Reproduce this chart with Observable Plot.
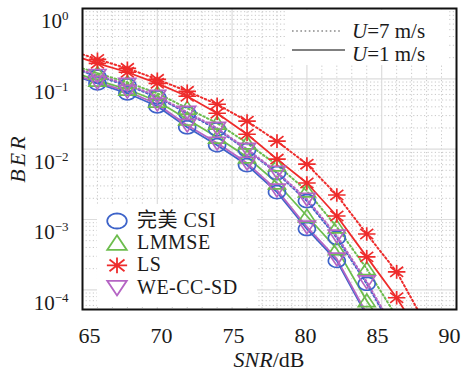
<!DOCTYPE html>
<html><head><meta charset="utf-8">
<script src="https://cdn.jsdelivr.net/npm/d3@7"></script>
<script src="https://cdn.jsdelivr.net/npm/@observablehq/plot@0.6"></script>
<style>
body{margin:0;background:#fff;}
#chart{position:relative;width:461px;height:373px;}
</style></head><body><div id="chart"></div>
<script>
// ---- data ----
const snr = [65, 66, 68, 70, 72, 74, 76, 78, 80, 82, 84, 86, 88];
const methods = ["完美 CSI", "LMMSE", "LS", "WE-CC-SD"];
const speeds = ["U=7 m/s", "U=1 m/s"];
const xTicks = [65, 70, 75, 80, 85, 90];
const yTicks = [1, 0.1, 0.01, 0.001, 0.0001];

// U = 1 m/s (solid)
const csiU1   = [0.1017, 0.0863, 0.0623, 0.0407, 0.0205, 0.0114, 0.00593, 0.00245, 0.000733, 0.000258, 0.0000428, 0.0000060, null];
const lmmseU1 = [0.112, 0.0952, 0.0710, 0.0480, 0.0267, 0.0148, 0.00771, 0.00330, 0.00112, 0.000382, 0.0000698, 0.0000161, null];
const lsU1    = [0.195, 0.166, 0.124, 0.0863, 0.0565, 0.0324, 0.0163, 0.00722, 0.00330, 0.00112, 0.000294, 0.0000771, 0.0000161];
const weU1    = [0.105, 0.0892, 0.0665, 0.0435, 0.0219, 0.0122, 0.00633, 0.00262, 0.000783, 0.000275, 0.0000457, 0.0000071, null];
// U = 7 m/s (dotted)
const csiU7   = [0.128, 0.108, 0.0809, 0.0547, 0.0324, 0.0192, 0.00968, 0.00457, 0.00183, 0.000547, 0.000122, 0.0000223, null];
const lmmseU7 = [0.141, 0.120, 0.0892, 0.0623, 0.0382, 0.0234, 0.0122, 0.00593, 0.00254, 0.000783, 0.000199, 0.0000414, null];
const lsU7    = [0.223, 0.189, 0.141, 0.0984, 0.0665, 0.0435, 0.0250, 0.0130, 0.00612, 0.00223, 0.000622, 0.000180, 0.0000308];
const weU7    = [0.132, 0.112, 0.0836, 0.0565, 0.0335, 0.0199, 0.0100, 0.00472, 0.00195, 0.000583, 0.000130, 0.0000238, null];

// ---- styles ----
const colors = ["#3d63c9", "#6dbd4e", "#ee2b2b", "#b565c4"];
const serif = "'Liberation Serif', 'Noto Sans CJK SC', serif";

const series = [
  [0, 1, csiU1], [1, 1, lmmseU1], [2, 1, lsU1], [3, 1, weU1],
  [0, 0, csiU7], [1, 0, lmmseU7], [2, 0, lsU7], [3, 0, weU7]
];
const rows = series.flatMap(([m, s, vals]) =>
  vals.map((v, i) => ({method: methods[m], mi: m, speed: speeds[s], si: s, snr: snr[i], ber: v}))
      .filter(d => d.ber != null));

const yMin = Math.pow(10, -4.28), yMax = 1;

// custom marker shapes
function poly(pts) {
  return {draw(ctx, size) {
    const r = Math.sqrt(size / Math.PI);
    pts.forEach(([x, y], i) => i ? ctx.lineTo(x * r, y * r) : ctx.moveTo(x * r, y * r));
    ctx.closePath();
  }};
}
const ellipse = {draw(ctx, size) {
  const r = Math.sqrt(size / Math.PI), n = 36;
  for (let i = 0; i < n; i++) {
    const a = 2 * Math.PI * i / n, x = 1.3 * r * Math.cos(a), y = 1.0 * r * Math.sin(a);
    i ? ctx.lineTo(x, y) : ctx.moveTo(x, y);
  }
  ctx.closePath();
}};
const triUp = poly([[0, -1.05], [1.3, 0.9], [-1.3, 0.9]]);
const triDown = poly([[0, 1.05], [1.3, -0.9], [-1.3, -0.9]]);
const star = {draw(ctx, size) {
  const r = Math.sqrt(size / Math.PI);
  for (const [x, y] of [[1.35, 0], [0, 1.05], [1.0, 0.78], [1.0, -0.78]]) {
    ctx.moveTo(-x * r, -y * r); ctx.lineTo(x * r, y * r);
  }
}};
const symbols = [ellipse, triUp, star, triDown];

// grid values
const minorY = [];
for (let k = -5; k <= -1; k++) for (let m = 2; m <= 9; m++) { const v = m * Math.pow(10, k); if (v > yMin && v < yMax) minorY.push(v); }
const minorX = d3.range(66, 90).filter(v => v % 5 !== 0);
const majorX = xTicks.filter(v => v > 65 && v < 90);
const majorY = yTicks.filter(v => v > yMin && v < yMax);

const lineMarks = [];
for (const si of [0, 1]) {
  for (let mi = 0; mi < 4; mi++) {
    lineMarks.push(Plot.line(rows.filter(d => d.mi === mi && d.si === si), {
      x: "snr", y: "ber", stroke: colors[mi], strokeWidth: si === 1 ? 1.8 : 2,
      strokeDasharray: si === 0 ? "1.6,2.6" : null, clip: true
    }));
  }
}
const dotMarks = [];
for (let mi = 0; mi < 4; mi++) {
  dotMarks.push(Plot.dot(rows.filter(d => d.mi === mi && d.snr >= 66 && d.ber >= yMin), {
    x: "snr", y: "ber", symbol: symbols[mi], r: 6.5, stroke: colors[mi], fill: "none", strokeWidth: 1.7
  }));
}

const svg = Plot.plot({
  width: 461, height: 373,
  marginLeft: 82, marginRight: 5, marginTop: 8, marginBottom: 64,
  style: {fontFamily: serif, fontSize: "22px", color: "#1a1a1a", background: "#fff"},
  x: {domain: [65, 90], ticks: xTicks, tickSize: 0, tickPadding: 18, label: null},
  y: {type: "log", domain: [yMin, yMax], ticks: yTicks, tickSize: 0, tickPadding: 14, label: null,
      tickFormat: d => String(Math.round(Math.log10(d)))},
  marks: [
    Plot.ruleY(minorY, {stroke: "#c8c8c8", strokeDasharray: "1.2,2.4", strokeWidth: 1}),
    Plot.ruleX(minorX, {stroke: "#c8c8c8", strokeDasharray: "1.2,2.4", strokeWidth: 1}),
    Plot.ruleY(majorY, {stroke: "#dcdcdc", strokeWidth: 1.2}),
    Plot.ruleX(majorX, {stroke: "#dcdcdc", strokeWidth: 1.2}),
    ...lineMarks,
    ...dotMarks,
    Plot.frame({stroke: "#111", strokeWidth: 2})
  ]
});
document.getElementById("chart").appendChild(svg);

const root = d3.select(svg);
const xs = svg.scale("x");
// x tick labels: spaced as in the reference (slightly compressed row)
root.selectAll('g[aria-label="x-axis tick label"] text').each(function(d, i) {
  const v = xTicks[i];
  const want = 89 + (v - 65) / 5 * 72;
  d3.select(this).attr("dx", want - xs.apply(v));
});
// y tick labels as 10^k
root.selectAll('g[aria-label="y-axis tick label"] text').each(function() {
  const t = d3.select(this);
  const e = t.text().replace("-", "\u2212");
  t.text(null).attr("dy", "0.62em").style("font-size", "21px");
  t.append("tspan").text("10");
  t.append("tspan").attr("dy", -8).style("font-size", "13px").text(e);
});

// axis titles
root.append("text").attr("x", 269).attr("y", 367).attr("text-anchor", "middle")
  .style("font-family", serif).style("font-size", "22px").attr("fill", "#1a1a1a")
  .call(t => { t.append("tspan").style("font-style", "italic").text("SNR"); t.append("tspan").text("/dB"); });
root.append("text").attr("transform", "translate(25,158) rotate(-90)").attr("text-anchor", "middle")
  .style("font-family", serif).style("font-size", "22px").style("font-style", "italic")
  .style("letter-spacing", "3px").attr("fill", "#1a1a1a")
  .text("BER");

// legend: speeds
const lg1 = root.append("g");
lg1.append("rect").attr("x", 287).attr("y", 10).attr("width", 160).attr("height", 55).attr("fill", "#fff");
lg1.append("line").attr("x1", 292).attr("x2", 342).attr("y1", 31).attr("y2", 31)
  .attr("stroke", "#8a8a8a").attr("stroke-width", 1.6).attr("stroke-dasharray", "1.6,2.6");
lg1.append("line").attr("x1", 292).attr("x2", 345).attr("y1", 50).attr("y2", 50)
  .attr("stroke", "#808080").attr("stroke-width", 2);
[[speeds[0], 38], [speeds[1], 61]].forEach(([s, y]) => {
  const [u, rest] = s.split("=");
  const t = lg1.append("text").attr("x", 352).attr("y", y).attr("text-anchor", "start")
    .style("font-family", serif).style("font-size", "21px").attr("fill", "#1a1a1a");
  t.append("tspan").style("font-style", "italic").text(u);
  t.append("tspan").text("=" + rest);
});

// legend: methods
const lg2 = root.append("g");
lg2.append("rect").attr("x", 97).attr("y", 204).attr("width", 160).attr("height", 103).attr("fill", "#fff");
methods.forEach((m, i) => {
  const base = 227 + i * 22.2;
  const p = d3.path();
  symbols[i].draw(p, Math.PI * 7.5 * 7.5);
  lg2.append("path").attr("d", p.toString()).attr("transform", `translate(117,${base - 6})`)
    .attr("fill", "none").attr("stroke", colors[i]).attr("stroke-width", 1.8);
  lg2.append("text").attr("x", 137).attr("y", base).attr("text-anchor", "start")
    .style("font-family", serif).style("font-size", "20px").style("letter-spacing", "0.5px")
    .attr("fill", "#1a1a1a").text(m);
});
</script></body></html>
